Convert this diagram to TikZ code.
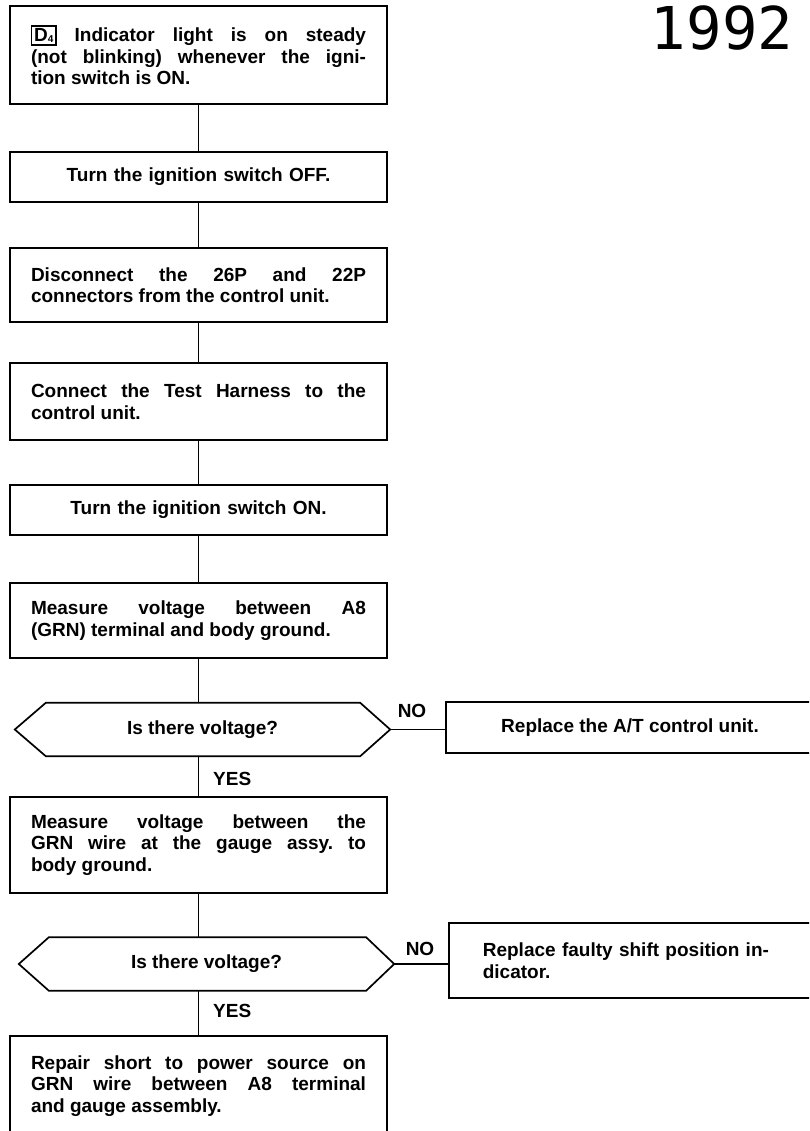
\documentclass[tikz,border=0pt]{standalone}
\usepackage{fontspec}
\setmainfont{Liberation Sans}
\newfontfamily\yearfont{DejaVu Sans Mono}
\usetikzlibrary{calc}
\tikzset{
  every picture/.style={x=1pt,y=-1pt},
  base/.style={font=\fontsize{19}{21.5}\selectfont\bfseries\frenchspacing, inner sep=0pt},
  stepbox/.style={base, draw, line width=1.7pt, minimum width=377pt, text width=335pt, align=justify},
  onebox/.style={base, draw, line width=1.7pt, minimum width=377pt, text width=335pt, align=center},
  sidebox/.style={base, draw, line width=1.7pt, text width=336pt, inner xsep=34pt, align=left, anchor=west},
  hexnode/.style={base, minimum width=375pt, minimum height=53pt, align=center},
  hexline/.style={line width=1.7pt, line join=miter},
  link/.style={line width=1.7pt},
  lbl/.style={base}
}
\begin{document}
\begin{tikzpicture}
\useasboundingbox (0,0) rectangle (809,1131);
\clip (0,0) rectangle (809,1131);
\node[inner sep=0pt, font=\yearfont\fontsize{59}{59}\selectfont] (year) at (722,28) {1992};

\node[stepbox, minimum height=98pt] (b1) at (198.5,55)
  {{\fboxsep=1.8pt\fboxrule=1.4pt\fbox{D\raisebox{-1pt}{\fontsize{10}{10}\selectfont 4}}}
   Indicator light is on steady\linebreak
   (not blinking) whenever the igni-\linebreak tion switch is ON.};
\node[onebox, minimum height=50pt] (b2) at (198.5,177) {Turn the ignition switch OFF.};
\node[stepbox, minimum height=74pt] (b3) at (198.5,285)
  {Disconnect the 26P and 22P\linebreak connectors from the control unit.};
\node[stepbox, minimum height=77pt] (b4) at (198.5,401.5)
  {Connect the Test Harness to the\linebreak control unit.};
\node[onebox, minimum height=50pt] (b5) at (198.5,510) {Turn the ignition switch ON.};
\node[stepbox, minimum height=75pt] (b6) at (198.5,620.5)
  {Measure voltage between A8\linebreak (GRN) terminal and body ground.};

\node[hexnode] (q1) at (202.5,729.5) {Is there voltage?};
\draw[hexline] (q1.west) -- ([xshift=31pt]q1.north west) -- ([xshift=-30pt]q1.north east)
  -- (q1.east) -- ([xshift=-30pt]q1.south east) -- ([xshift=31pt]q1.south west) -- cycle;

\node[base, draw, line width=1.7pt, minimum width=368pt, minimum height=51pt] (a1) at (630,727.5)
  {Replace the A/T control unit.};

\node[stepbox, minimum height=96pt] (b7) at (198.5,845)
  {Measure voltage between the\linebreak GRN wire at the gauge assy. to\linebreak body ground.};

\node[hexnode] (q2) at (206.5,964) {Is there voltage?};
\draw[hexline] (q2.west) -- ([xshift=30pt]q2.north west) -- ([xshift=-28pt]q2.north east)
  -- (q2.east) -- ([xshift=-28pt]q2.south east) -- ([xshift=30pt]q2.south west) -- cycle;

\node[sidebox, minimum height=75pt] (a2) at (448,960.5)
  {\parbox{296pt}{\sloppy Replace faulty shift position in-\linebreak dicator.}};

\node[stepbox, minimum height=100pt] (b8) at (198.5,1086)
  {Repair short to power source on\linebreak GRN wire between A8 terminal\linebreak and gauge assembly.};

\draw[link] (b1.south) -- (b2.north);
\draw[link] (b2.south) -- (b3.north);
\draw[link] (b3.south) -- (b4.north);
\draw[link] (b4.south) -- (b5.north);
\draw[link] (b5.south) -- (b6.north);
\draw[link] (b6.south) -- (b6.south |- q1.north);
\draw[link] (q1.east) -- (a1.west |- q1.east);
\draw[link] (b7.north |- q1.south) -- (b7.north);
\draw[link] (b7.south) -- (b7.south |- q2.north);
\draw[link] (q2.east) -- (a2.west |- q2.east);
\draw[link] (b8.north |- q2.south) -- (b8.north);

\node[lbl] (no1) at (412,711) {NO};
\node[lbl] (no2) at (420,949) {NO};
\node[lbl, anchor=west] (yes1) at (213,779) {YES};
\node[lbl, anchor=west] (yes2) at (213,1011) {YES};
\end{tikzpicture}
\end{document}
